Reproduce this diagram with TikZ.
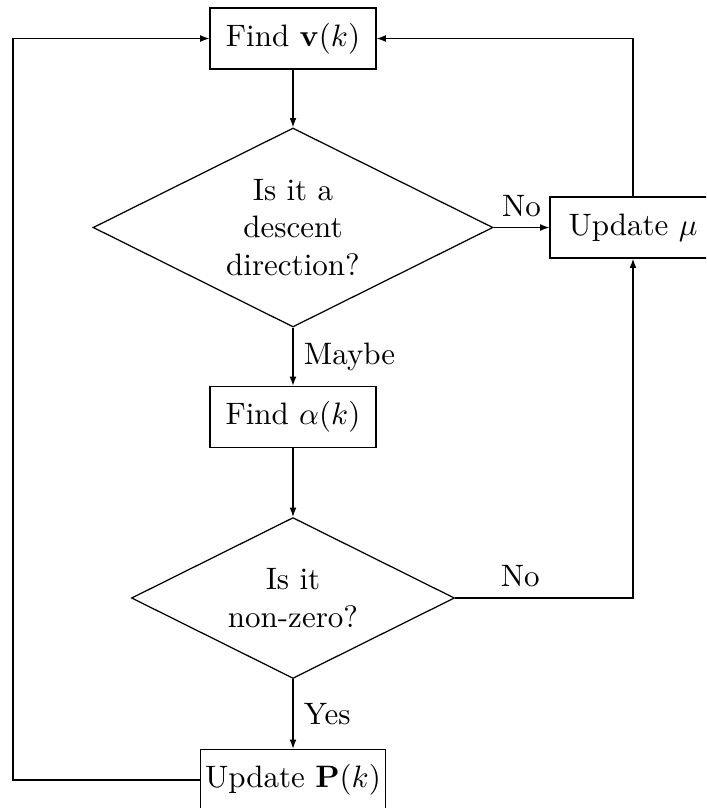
\documentclass[tikz,border=0pt]{standalone}
\usetikzlibrary{shapes.geometric,arrows.meta}
\begin{document}
\begin{tikzpicture}[x=0.3226pt,y=-0.3226pt,
  box/.style={draw,minimum width=53.5pt,minimum height=19.7pt,inner sep=1.5pt},
  dec/.style={draw,diamond,aspect=2,inner sep=0pt,align=center},
  arr/.style={-{Latex[length=3pt,width=2.2pt]}}]
\useasboundingbox (0,0) rectangle (706,808);
\clip (0,0) rectangle (706,808);
\node[box] (fv) at (293,38.5) {Find $\mathbf{v}(k)$};
\node[dec,minimum width=129pt,minimum height=64.2pt] (d1) at (293,227.5) {Is it a\\descent\\direction?};
\node[box] (um) at (633,227.5) {Update $\mu$};
\node[box] (fa) at (293,417) {Find $\alpha(k)$};
\node[dec,minimum width=104.2pt,minimum height=51.9pt] (d2) at (293,598) {Is it\\non-zero?};
\node[box] (up) at (293,780) {Update $\mathbf{P}(k)$};
\coordinate (lc) at (13,780);
\draw[arr] (fv) -- (d1);
\draw[arr] (d1) -- node[right] {Maybe} (fa);
\draw[arr] (fa) -- (d2);
\draw[arr] (d2) -- node[right] {Yes} (up);
\draw[arr] (d1.east) -- node[above] {No} (um.west);
\draw[arr] (d2.east) -| node[pos=0.183,above] {No} (um.south);
\draw[arr] (um.north) |- (fv.east);
\draw[arr] (up.west) -- (lc) |- (fv.west);
\end{tikzpicture}
\end{document}
